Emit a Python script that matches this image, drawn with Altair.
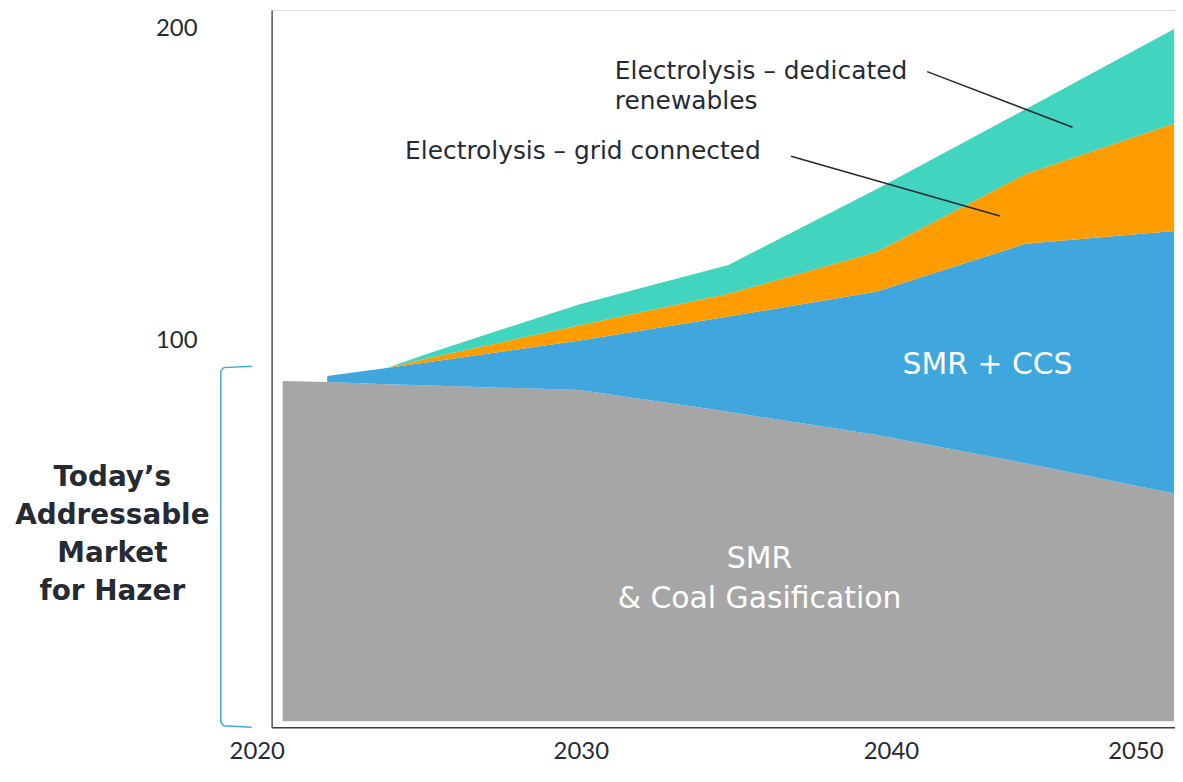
import altair as alt
import pandas as pd

# ---------------- data ----------------
YEARS = [2020, 2021.5, 2023.5, 2025, 2030, 2035, 2040, 2045, 2050]
SERIES = ["SMR & Coal Gasification", "SMR + CCS",
          "Electrolysis – grid connected", "Electrolysis – dedicated renewables"]
SMR_COAL = [86.9, 86.6, 85.9, 85.5, 84.0, 77.0, 69.6, 60.5, 50.8]
SMR_CCS = [None, 1.9, 5.2, 7.6, 15.9, 30.6, 46.1, 70.5, 84.3]
GRID = [None, None, 0.0, 1.4, 4.9, 7.3, 12.7, 22.4, 34.5]
RENEW = [None, None, 0.0, 1.6, 6.8, 9.3, 20.2, 20.8, 30.4]
COLORS = ["#A6A6A6", "#3FA7DE", "#FF9C00", "#41D4BE"]
FLOOR = -22.4          # bottom of the filled areas

Y_TICKS = [100, 200]
X_TICKS = [2020, 2030, 2040, 2050]

# annotation texts (position in data units)
ANN_TEXT = ["Electrolysis – dedicated", "renewables", "Electrolysis – grid connected"]
ANN_X = [2031.18, 2031.18, 2024.12]
ANN_Y = [186.6, 176.7, 160.7]

IN_TEXT = ["SMR + CCS", "SMR", "& Coal  Gasification"]
IN_X = [2043.72, 2036.05, 2036.05]
IN_Y = [92.0, 29.7, 16.9]

SIDE_TEXT = ["Today’s", "Addressable", "Market", "for Hazer"]
SIDE_X = [2014.27] * 4
SIDE_Y = [55.9, 43.5, 31.3, 19.2]

LEAD_X = [2041.69, 2037.11]
LEAD_Y = [186.3, 159.1]
LEAD_X2 = [2046.58, 2044.14]
LEAD_Y2 = [168.4, 139.9]

BRACKET_X = [2018.96, 2018.02, 2017.92, 2017.92, 2018.02, 2018.96]
BRACKET_Y = [91.69, 91.21, 90.10, -22.72, -23.84, -24.28]

# ---------------- build tables ----------------
cum = [0.0] * len(YEARS)
frames = []
for k, vals in enumerate([SMR_COAL, SMR_CCS, GRID, RENEW]):
    rows = []
    for i, (yr, v) in enumerate(zip(YEARS, vals)):
        if v is None:
            continue
        lo = FLOOR if k == 0 else cum[i]
        rows.append({"series": SERIES[k], "year": yr, "lo": lo, "hi": cum[i] + v})
    for i, v in enumerate(vals):
        if v is not None:
            cum[i] += v
    frames.append(pd.DataFrame(rows))

ann_df = pd.DataFrame({"t": ANN_TEXT, "x": ANN_X, "y": ANN_Y})
in_df = pd.DataFrame({"t": IN_TEXT, "x": IN_X, "y": IN_Y})
side_df = pd.DataFrame({"t": SIDE_TEXT, "x": SIDE_X, "y": SIDE_Y})
lead_df = pd.DataFrame({"x": LEAD_X, "y": LEAD_Y, "x2": LEAD_X2, "y2": LEAD_Y2})
br_df = pd.DataFrame({"x": BRACKET_X, "y": BRACKET_Y, "o": list(range(len(BRACKET_X)))})

NUM_FONT = "Lato"
WORD_FONT = "Century Gothic, DejaVu Sans"
TXT = "#262B33"

x_scale = alt.Scale(domain=[2019.63, 2050.03], nice=False, zero=False)
y_scale = alt.Scale(domain=[-24.3, 206.1], nice=False, zero=False)

x_axis = alt.Axis(values=X_TICKS, format="d", ticks=False, grid=False,
                  domainColor="#3a3d42", domainWidth=1.5,
                  labelFont=NUM_FONT, labelFontSize=24, labelColor=TXT,
                  labelPadding=12, labelFlush=False, labelOverlap=False,
                  labelOffset={"condition": [
                      {"test": "datum.value == 2020", "value": -26},
                      {"test": "datum.value == 2040", "value": 14},
                      {"test": "datum.value == 2050", "value": -39}],
                      "value": 1})
y_axis = alt.Axis(values=Y_TICKS, ticks=False, grid=False,
                  domainColor="#55595f", domainWidth=1.5,
                  labelFont=NUM_FONT, labelFontSize=24, labelColor=TXT,
                  labelPadding=75, labelFlush=False)


def X(f):
    return alt.X(f, type="quantitative", scale=x_scale, axis=x_axis, title=None)


def Y(f):
    return alt.Y(f, type="quantitative", scale=y_scale, axis=y_axis, title=None)


area_layers = [
    alt.Chart(df).mark_area(color=col, opacity=1).encode(
        x=X("year"), y=Y("hi"), y2=alt.Y2("lo"))
    for df, col in zip(frames, COLORS)
]

bracket = alt.Chart(br_df).mark_line(color="#3FA7DE", strokeWidth=1.5).encode(
    x=X("x"), y=Y("y"), order="o:Q")

leaders = alt.Chart(lead_df).mark_rule(color=TXT, strokeWidth=1.5).encode(
    x=X("x"), y=Y("y"), x2="x2", y2="y2")

ann = alt.Chart(ann_df).mark_text(align="left", baseline="middle", font=WORD_FONT,
                                  fontSize=25, color=TXT).encode(
    x=X("x"), y=Y("y"), text="t:N")

inside = alt.Chart(in_df).mark_text(align="center", baseline="middle", font=WORD_FONT,
                                    fontSize=30, color="white").encode(
    x=X("x"), y=Y("y"), text="t:N")

side = alt.Chart(side_df).mark_text(align="center", baseline="middle", font=WORD_FONT,
                                    fontSize=28, fontWeight="bold", color=TXT).encode(
    x=X("x"), y=Y("y"), text="t:N")

chart = alt.layer(*area_layers, bracket, leaders, ann, inside, side).properties(
    width=908, height=721,
    padding={"left": 265, "top": 0, "right": 0, "bottom": 37},
    autosize=alt.AutoSizeParams(type="none"),
).configure_view(stroke=None).configure(background="white")

chart.save("out.html", embed_options={"renderer": "svg", "actions": False})
